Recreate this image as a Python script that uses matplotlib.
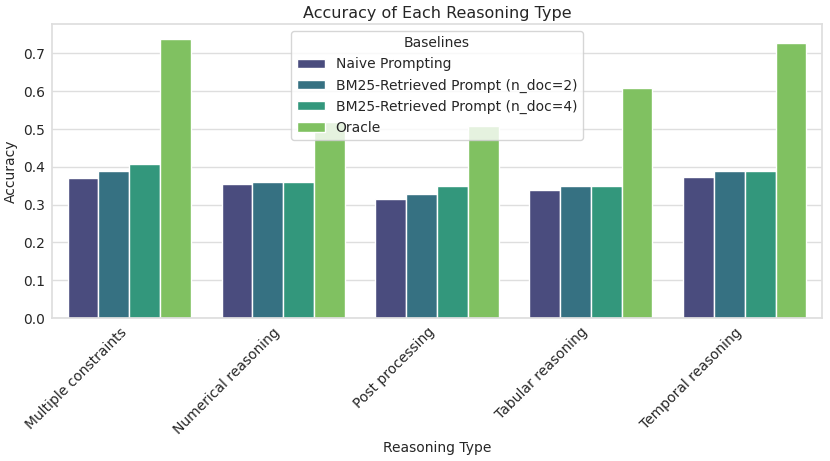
"""Bar chart of accuracy per reasoning type for each baseline."""
import pandas as pd
import seaborn as sns
from matplotlib import pyplot as plt

categories = ['Multiple constraints', 'Numerical reasoning', 'Post processing',
              'Tabular reasoning', 'Temporal reasoning']
baselines = ['Naive Prompting', 'BM25-Retrieved Prompt (n_doc=2)',
             'BM25-Retrieved Prompt (n_doc=4)', 'Oracle']
naive = [0.371, 0.354, 0.316, 0.339, 0.373]
bm25_2 = [0.389, 0.359, 0.329, 0.349, 0.389]
bm25_4 = [0.408, 0.359, 0.349, 0.349, 0.389]
oracle = [0.738, 0.518, 0.508, 0.608, 0.728]


def main():
    rows = []
    for name, vals in zip(baselines, [naive, bm25_2, bm25_4, oracle]):
        for cat, v in zip(categories, vals):
            rows.append({'Reasoning Type': cat, 'Accuracy': v, 'Baselines': name})
    df = pd.DataFrame(rows)

    sns.set_theme(style='whitegrid', rc={'grid.color': '#dedede',
                                         'axes.edgecolor': '#dedede'})
    fig, ax = plt.subplots(figsize=(8.3, 4.61), dpi=100)
    sns.barplot(data=df, x='Reasoning Type', y='Accuracy', hue='Baselines',
                palette='viridis', ax=ax)
    ax.set_title('Accuracy of Each Reasoning Type', fontsize=11.5, pad=4)
    ax.set_yticks([0.0, 0.1, 0.2, 0.3, 0.4, 0.5, 0.6, 0.7])
    ax.set_ylim(0, 0.778)
    ax.tick_params(labelsize=10, length=0, pad=5)
    ax.set_xlabel('Reasoning Type', fontsize=10, labelpad=3)
    ax.set_ylabel('Accuracy', fontsize=10, labelpad=4)
    plt.setp(ax.get_xticklabels(), rotation=45, ha='right')
    ax.legend(title='Baselines', loc='upper center', fontsize=10,
              title_fontsize=10)
    fig.subplots_adjust(left=0.063, right=0.99, top=0.948, bottom=0.31)
    plt.savefig('out.png')


if __name__ == '__main__':
    main()
